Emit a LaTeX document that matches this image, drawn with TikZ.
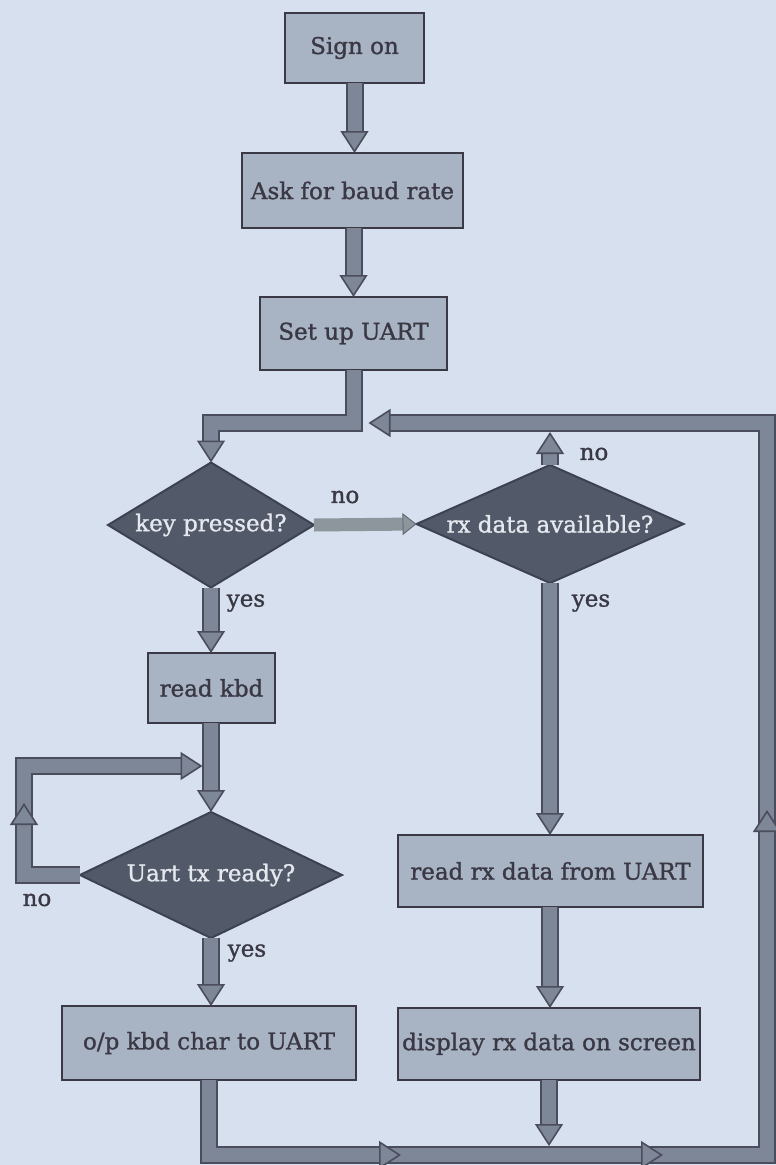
\documentclass[tikz,border=0pt]{standalone}
\usepackage{fontspec}
\setmainfont{DejaVu Serif}[FakeBold=1.2]
\usetikzlibrary{arrows.meta,shapes.geometric,decorations.markings}
\definecolor{bgc}{HTML}{D6E0EE}
\definecolor{boxfill}{HTML}{A8B3C3}
\definecolor{boxline}{HTML}{3B3946}
\definecolor{diafill}{HTML}{525A6A}
\definecolor{dialine}{HTML}{3E4250}
\definecolor{arrfill}{HTML}{7E8797}
\definecolor{arrline}{HTML}{4B4D5C}
\definecolor{nofill}{HTML}{8C969C}
\definecolor{txtdark}{HTML}{3A3844}
\definecolor{txtlight}{HTML}{E6E8EF}
\tikzset{
  tipA/.tip={Triangle[width=28pt,length=22pt,line width=1.6pt,color=arrline,fill=arrfill]},
  tipB/.tip={Triangle[width=22pt,length=14pt,line width=1pt,color=arrline!60!nofill,fill=nofill]},
  fat/.style={line width=14pt, draw=arrfill, line join=miter, shorten >=#1, -{tipA},
    preaction={draw=arrline, line width=18pt, line join=miter, arrows=-, shorten >=#1+21pt}},
  fat/.default=0pt,
  nofat/.style={line width=13pt, draw=nofill, -{tipB}},
  midtip/.style={postaction={decorate, decoration={markings, mark=at position #1 with {\arrow{tipA}}}}},
  txtfont/.style={font=\fontsize{23}{27}\selectfont},
  box/.style={draw=boxline, line width=2.5pt, fill=boxfill, text=txtdark, inner sep=0pt, outer sep=0pt, txtfont},
  dia/.style={diamond, draw=dialine, line width=2pt, fill=diafill, inner sep=0pt, outer sep=0pt},
  diatext/.style={text=txtlight, inner sep=0pt, txtfont},
  lbl/.style={text=txtdark, txtfont, inner sep=0pt},
}
\begin{document}
\begin{tikzpicture}[x=1pt,y=-1pt]
\fill[bgc] (0,0) rectangle (776,1165);
\useasboundingbox (0,0) rectangle (776,1165);

% nodes
\node[box, minimum width=139pt, minimum height=70pt] (sign) at (354.5,48) {Sign on};
\node[box, minimum width=221pt, minimum height=75pt] (ask) at (352.5,190.5) {Ask for baud rate};
\node[box, minimum width=187pt, minimum height=73pt] (setup) at (353.5,333.5) {Set up UART};
\node[dia, minimum width=206pt, minimum height=125pt,
  label={[diatext]center:key pressed?}] (key) at (211,525) {};
\node[dia, minimum width=267pt, minimum height=118pt,
  label={[diatext]center:rx data available?}] (rx) at (550,524) {};
\node[box, minimum width=127pt, minimum height=70pt] (readkbd) at (211.5,688) {read kbd};
\node[dia, minimum width=262pt, minimum height=126pt,
  label={[diatext]center:Uart tx ready?}] (uart) at (211,875) {};
\node[box, minimum width=305pt, minimum height=72pt] (readrx) at (550.5,871) {read rx data from UART};
\node[box, minimum width=294pt, minimum height=74pt] (opk) at (209,1043) {o/p kbd char to UART};
\node[box, minimum width=302pt, minimum height=72pt] (disp) at (549,1044) {display rx data on screen};

\coordinate (br) at (767,1155);
\coordinate (tr) at (767,423);
\coordinate (lpc) at (24,766);

% connectors
\draw[fat] (sign.south) -- (sign.south |- ask.north);
\draw[fat] (ask.south -| setup.south) -- (setup.north);
\draw[fat] (setup.south) -- (setup.south |- tr) -| (key.north);
\draw[nofat] (key.east) -- (rx.west);
\draw[fat=9pt] (rx.north) -- (rx.north |- tr);
\draw[fat] (key.south) -- (key.south |- readkbd.north);
\draw[fat] (readkbd.south -| uart.north) -- (uart.north);
\draw[fat=9pt, midtip=128pt] (uart.west) -| (lpc) -- (readkbd.south |- lpc);
\draw[fat] (uart.south) -- (uart.south |- opk.north);
\draw[fat] (rx.south) -- (rx.south |- readrx.north);
\draw[fat] (readrx.south -| rx.south) -- (rx.south |- disp.north);
\draw[fat=9pt] (disp.south) -- (disp.south |- br);
\draw[fat=15pt,
  postaction={decorate, decoration={markings,
    mark=at position 267pt with {\arrow{tipA}},
    mark=at position 529pt with {\arrow{tipA}},
    mark=at position 978pt with {\arrow{tipA}}}}]
  (opk.south) -- (opk.south |- br) -- (br) -- (tr) -- (setup.south |- tr);

% labels
\node[lbl] (lno1) at (345,497) {no};
\node[lbl] (lno2) at (594,454) {no};
\node[lbl] (lyes1) at (246,603) {yes};
\node[lbl] (lyes2) at (591,603) {yes};
\node[lbl] (lno3) at (37,900) {no};
\node[lbl] (lyes3) at (247,953) {yes};
\end{tikzpicture}
\end{document}
